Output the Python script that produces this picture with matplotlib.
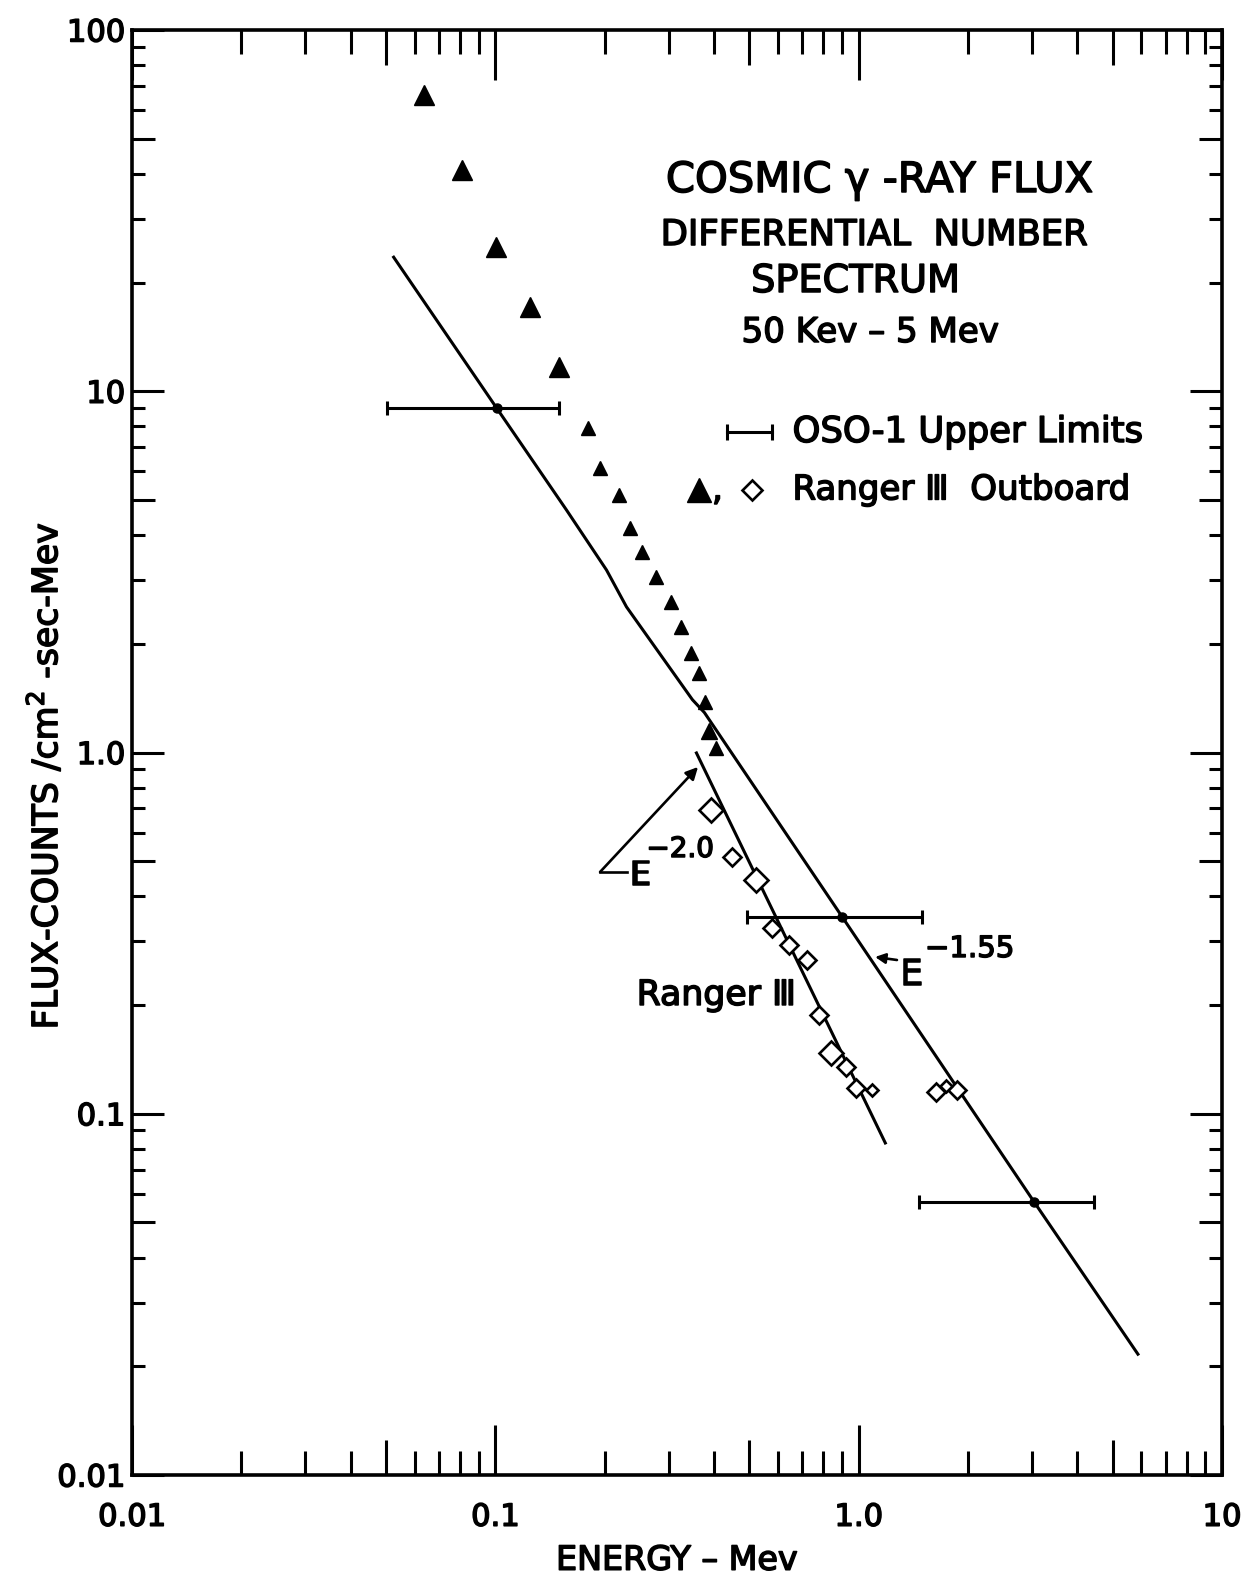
import matplotlib
matplotlib.use('Agg')
import matplotlib.pyplot as plt
import matplotlib.patheffects as pe
from matplotlib.ticker import FixedLocator, FixedFormatter, NullFormatter, LogLocator, NullLocator

# ---------------- data ----------------
x_major = [0.01, 0.1, 1.0, 10.0]
x_major_labels = ['0.01', '0.1', '1.0', '10']
y_major = [0.01, 0.1, 1.0, 10.0, 100.0]
y_major_labels = ['0.01', '0.1', '1.0', '10', '100']
minor_subs = [2, 3, 4, 6, 7, 8, 9]
half_subs = [5]

# Ranger III filled triangles
tri_large_x = [0.0635, 0.0808, 0.1002, 0.1243, 0.1493]
tri_large_y = [66.0, 41.0, 25.1, 17.1, 11.7]
tri_small_x = [0.1794, 0.1947, 0.2183, 0.2355, 0.2541, 0.2777, 0.3053,
               0.3253, 0.3465, 0.3645, 0.3786, 0.4059]
tri_small_y = [7.93, 6.13, 5.16, 4.18, 3.59, 3.06, 2.61,
               2.23, 1.89, 1.66, 1.38, 1.03]
tri_mid_x = [0.3883]
tri_mid_y = [1.15]

# Ranger III open diamonds
dia_large_x = [0.3933, 0.5229, 0.8410]
dia_large_y = [0.693, 0.444, 0.147]
dia_mid_x = [0.4494, 0.5786, 0.6445, 0.7222, 0.7793, 0.9245, 0.985, 1.635, 1.866]
dia_mid_y = [0.514, 0.327, 0.293, 0.266, 0.188, 0.135, 0.118, 0.115, 0.116]
dia_small_x = [1.09, 1.741]
dia_small_y = [0.116, 0.119]

# OSO-1 upper limits
oso_x = [0.1008, 0.902, 3.04]
oso_y = [8.99, 0.350, 0.0570]
oso_lo = [0.0502, 0.494, 1.468]
oso_hi = [0.1493, 1.496, 4.44]

# E^-1.55 line (hand drawn)
l155_x = [0.0525, 0.1008, 0.1570, 0.2023, 0.2296, 0.3487, 0.3762, 0.902, 3.04, 5.87]
l155_y = [23.5, 8.99, 4.69, 3.20, 2.53, 1.40, 1.29, 0.350, 0.0570, 0.0216]
# E^-2.0 line
l20_x = [0.3577, 1.184]
l20_y = [0.997, 0.083]

# ---------------- style ----------------
FONT = 'DejaVu Sans'
plt.rcParams['font.family'] = [FONT]
plt.rcParams['mathtext.fontset'] = 'dejavusans'
plt.rcParams['mathtext.default'] = 'regular'

K = 'black'
LW = 2.2
BOLD = [pe.withStroke(linewidth=1.1, foreground=K)]

fig = plt.figure(figsize=(12.47, 15.88), dpi=100)
rect = [132 / 1247, 1 - 1475 / 1588, 1090 / 1247, 1445 / 1588]
ax = fig.add_axes(rect)
ax.set_xscale('log')
ax.set_yscale('log')
ax.set_xlim(0.01, 10)
ax.set_ylim(0.01, 100)

ax.xaxis.set_major_locator(FixedLocator(x_major))
ax.xaxis.set_major_formatter(FixedFormatter(x_major_labels))
ax.yaxis.set_major_locator(FixedLocator(y_major))
ax.yaxis.set_major_formatter(FixedFormatter(y_major_labels))
ax.xaxis.set_minor_locator(LogLocator(base=10, subs=minor_subs))
ax.yaxis.set_minor_locator(LogLocator(base=10, subs=minor_subs))
ax.xaxis.set_minor_formatter(NullFormatter())
ax.yaxis.set_minor_formatter(NullFormatter())

ax.tick_params(which='both', direction='in', top=True, right=True, width=LW, color=K)
ax.tick_params(axis='x', which='major', length=36, pad=20, labelsize=22)
ax.tick_params(axis='x', which='minor', length=17)
ax.tick_params(axis='y', which='major', length=23, pad=5, labelsize=22)
ax.tick_params(axis='y', which='minor', length=9.5)
for sp in ax.spines.values():
    sp.set_linewidth(2.6)
for t in ax.xaxis.get_major_ticks() + ax.yaxis.get_major_ticks():
    t.label1.set_path_effects(BOLD)

# overlay axes for the medium-length "5" ticks
ax2 = fig.add_axes(rect)
ax2.set_xscale('log')
ax2.set_yscale('log')
ax2.set_xlim(0.01, 10)
ax2.set_ylim(0.01, 100)
ax2.patch.set_visible(False)
for sp in ax2.spines.values():
    sp.set_visible(False)
ax2.xaxis.set_major_locator(LogLocator(base=10, subs=half_subs))
ax2.yaxis.set_major_locator(LogLocator(base=10, subs=half_subs))
ax2.xaxis.set_minor_locator(NullLocator())
ax2.yaxis.set_minor_locator(NullLocator())
ax2.tick_params(which='major', direction='in', top=True, right=True, width=LW, color=K,
                labelbottom=False, labelleft=False)
ax2.tick_params(axis='x', length=25)
ax2.tick_params(axis='y', length=16.5)

# ---------------- data marks ----------------
ax.plot(l155_x, l155_y, color=K, lw=LW, zorder=2)
ax.plot(l20_x, l20_y, color=K, lw=LW, zorder=2)

xerr = [[c - lo for c, lo in zip(oso_x, oso_lo)], [hi - c for c, hi in zip(oso_x, oso_hi)]]
ax.errorbar(oso_x, oso_y, xerr=xerr, fmt='o', ms=6.5, color=K, ecolor=K,
            elinewidth=LW, capsize=5, capthick=LW, zorder=3)

ax.plot(tri_large_x, tri_large_y, '^', ms=14.5, color=K, zorder=4)
ax.plot(tri_small_x, tri_small_y, '^', ms=9.4, color=K, zorder=4)
ax.plot(tri_mid_x, tri_mid_y, '^', ms=11.5, color=K, zorder=4)

dkw = dict(mfc='white', mec=K, mew=1.9, ls='none', zorder=5)
ax.plot(dia_large_x, dia_large_y, 'D', ms=12.5, **dkw)
ax.plot(dia_mid_x, dia_mid_y, 'D', ms=8.7, **dkw)
ax.plot(dia_small_x, dia_small_y, 'D', ms=5.8, **dkw)

# ---------------- text ----------------
T = ax.transAxes


def txt(x, y, s, size, ha='left', va='baseline'):
    return ax.text(x, y, s, transform=T, ha=ha, va=va, fontsize=size, path_effects=BOLD)


txt(0.686, 0.8879, 'COSMIC γ -RAY FLUX', 30, ha='center')
txt(0.681, 0.8512, 'DIFFERENTIAL  NUMBER', 25.5, ha='center')
txt(0.664, 0.8187, 'SPECTRUM', 27.5, ha='center')
txt(0.677, 0.7841, '50 Kev – 5 Mev', 24.5, ha='center')

# legend (hand placed, like the original lettering)
ax.plot([0.546, 0.587], [0.7218, 0.7218], transform=T, color=K, lw=LW,
        marker='|', ms=11, mew=LW, clip_on=False)
txt(0.606, 0.7218, 'OSO-1 Upper Limits', 25.5, va='center')
ax.plot([0.520], [0.6817], '^', transform=T, ms=17, color=K)
txt(0.532, 0.6817, ',', 25, va='center')
ax.plot([0.569], [0.6817], 'D', transform=T, ms=10.5, mfc='white', mec=K, mew=1.9)
txt(0.606, 0.6817, 'Ranger Ⅲ  Outboard', 24.5, va='center')

# annotations
txt(0.463, 0.3253, 'Ranger Ⅲ', 25)

txt(0.4569, 0.4083, 'E', 24)
txt(0.4720, 0.4277, '−2.0', 20)
ax.plot([0.4541, 0.4294], [0.4173, 0.4173], transform=T, color=K, lw=1.9)
ax.annotate('', xy=(0.5193, 0.4900), xycoords='axes fraction',
            xytext=(0.4294, 0.4173), textcoords='axes fraction',
            arrowprops=dict(arrowstyle='-|>', color=K, lw=1.9, mutation_scale=18,
                            shrinkA=0, shrinkB=0))

txt(0.7046, 0.3391, 'E', 26)
txt(0.7275, 0.3585, '−1.55', 21)
ax.annotate('', xy=(0.6817, 0.3585), xycoords='axes fraction',
            xytext=(0.7018, 0.3564), textcoords='axes fraction',
            arrowprops=dict(arrowstyle='-|>', color=K, lw=1.9, mutation_scale=15,
                            shrinkA=0, shrinkB=0))

# axis labels
ax.set_xlabel('ENERGY – Mev', fontsize=24)
ax.xaxis.set_label_coords(0.5, -0.059)
ax.xaxis.label.set_va('center')
ax.xaxis.label.set_path_effects(BOLD)
ax.set_ylabel('FLUX-COUNTS /cm$^{2}$ -sec-Mev', fontsize=25)
ax.yaxis.set_label_coords(-0.080, 0.484)
ax.yaxis.label.set_va('center')
ax.yaxis.label.set_path_effects(BOLD)

fig.savefig('out.png', dpi=100, facecolor='white')
